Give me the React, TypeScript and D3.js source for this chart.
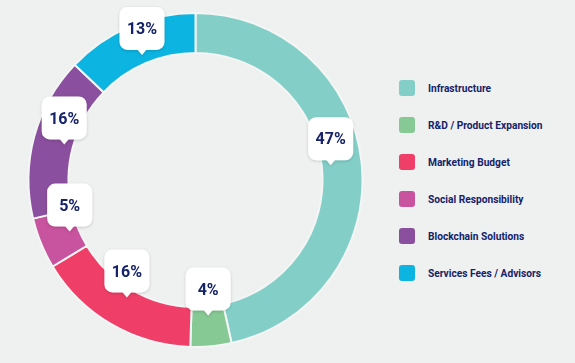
import React from 'react';
import * as d3 from 'd3';

const categories = [
  'Infrastructure',
  'R&D / Product Expansion',
  'Marketing Budget',
  'Social Responsibility',
  'Blockchain Solutions',
  'Services Fees / Advisors',
];
const shares = [47, 4, 16, 5, 16, 13];
const labels = ['47%', '4%', '16%', '5%', '16%', '13%'];
const colors = ['#83cfc8', '#86c994', '#ef3f68', '#c8539e', '#8a4f9e', '#0cb4e2'];

const W = 575;
const H = 363;
const NAVY = '#15226a';

export default function App() {
  const cx = 195.5;
  const cy = 180;
  const outer = 167;
  const inner = 127;

  const pie = d3.pie<number>().sort(null).value((d) => d);
  const arcs = pie(shares);
  const arc = d3.arc<d3.PieArcDatum<number>>().innerRadius(inner).outerRadius(outer);

  const legendY = d3.scalePoint<number>().domain(d3.range(categories.length)).range([88, 273]);

  const boxW = 45;
  const boxH = 43;
  const tipR = 136;

  return (
    <svg width={W} height={H} style={{ position: 'absolute', left: 0, top: 0 }}>
      <defs>
        <filter id="sh" x="-30%" y="-30%" width="160%" height="160%">
          <feDropShadow dx="0" dy="1" stdDeviation="1.5" floodColor="#000" floodOpacity="0.18" />
        </filter>
      </defs>
      <rect width={W} height={H} fill="#eff0f0" />
      <g transform={`translate(${cx},${cy})`}>
        {arcs.map((a, i) => (
          <path key={i} d={arc(a) || ''} fill={colors[i]} stroke="#f4f5f5" strokeWidth={2} />
        ))}
        {arcs.map((a, i) => {
          const mid = (a.startAngle + a.endAngle) / 2;
          const tx = Math.sin(mid) * tipR;
          const ty = -Math.cos(mid) * tipR;
          const bx = tx - boxW / 2;
          const by = ty - 5 - boxH;
          return (
            <g key={'l' + i} filter="url(#sh)">
              <rect x={bx} y={by} width={boxW} height={boxH} rx={8} fill="#fff" />
              <path d={`M${tx - 5},${by + boxH - 1}L${tx},${ty}L${tx + 5},${by + boxH - 1}Z`} fill="#fff" />
              <text
                x={bx + boxW / 2}
                y={by + boxH / 2}
                dy="0.36em"
                textAnchor="middle"
                fontFamily="Roboto, sans-serif"
                fontWeight={700}
                fontSize={16}
                fill={NAVY}
              >
                {labels[i]}
              </text>
            </g>
          );
        })}
      </g>
      <g>
        {categories.map((c, i) => (
          <g key={c} transform={`translate(399,${legendY(i)})`}>
            <rect x={0} y={-8} width={16} height={16} rx={3} fill={colors[i]} />
            <text
              x={29}
              dy="0.35em"
              fontFamily="Roboto, sans-serif"
              fontWeight={700}
              fontSize={10.2}
              fill={NAVY}
            >
              {c}
            </text>
          </g>
        ))}
      </g>
    </svg>
  );
}
